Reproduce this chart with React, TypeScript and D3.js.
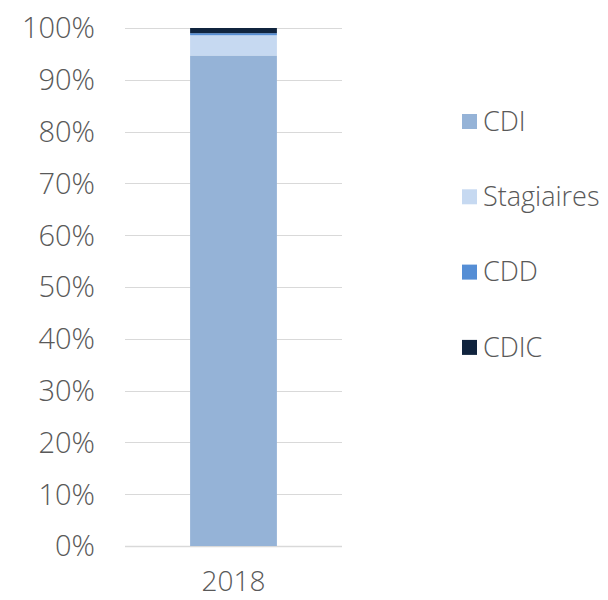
import React, { useRef, useEffect } from "react";
import * as d3 from "d3";

const categories = ["2018"];
const seriesNames = ["CDI", "Stagiaires", "CDD", "CDIC"];
const seriesColors = ["#95b3d7", "#c6d9f1", "#558ed5", "#10243e"];
const cdi = [0.947];
const stagiaires = [0.039];
const cdd = [0.004];
const cdic = [0.01];
const yTicks = [0, 0.1, 0.2, 0.3, 0.4, 0.5, 0.6, 0.7, 0.8, 0.9, 1];

const FONT = "'Open Sans', sans-serif";

const App = () => {
  const chartRef = useRef<SVGSVGElement>(null);

  useEffect(() => {
    const width = 608;
    const height = 600;
    const margin = { top: 28, right: 266, bottom: 54, left: 125 };
    const innerW = width - margin.left - margin.right;
    const innerH = height - margin.top - margin.bottom;

    const svg = d3.select(chartRef.current);
    svg.selectAll("*").remove();

    const rows = categories.map((c, i) => ({
      category: c,
      CDI: cdi[i],
      Stagiaires: stagiaires[i],
      CDD: cdd[i],
      CDIC: cdic[i],
    }));

    const stack = d3.stack<any>().keys(seriesNames);
    const stacked = stack(rows);

    const x = d3.scaleBand().domain(categories).range([0, innerW]).paddingInner(0.6).paddingOuter(0.295);
    const y = d3.scaleLinear().domain([0, 1]).range([innerH, 0]);
    const color = d3.scaleOrdinal<string>().domain(seriesNames).range(seriesColors);

    const g = svg.append("g").attr("transform", `translate(${margin.left},${margin.top})`);

    // grille
    g.selectAll("line.grid")
      .data(yTicks)
      .enter()
      .append("line")
      .attr("class", "grid")
      .attr("x1", 0)
      .attr("x2", innerW)
      .attr("y1", (d) => Math.round(y(d)) + 0.5)
      .attr("y2", (d) => Math.round(y(d)) + 0.5)
      .attr("stroke", "#d9d9d9")
      .attr("stroke-width", (d) => (d === 0 ? 1.5 : 1));

    // barres
    g.selectAll("g.layer")
      .data(stacked)
      .enter()
      .append("g")
      .attr("fill", (d) => color(d.key))
      .selectAll("rect")
      .data((d) => d)
      .enter()
      .append("rect")
      .attr("x", (d: any) => x(d.data.category)!)
      .attr("width", x.bandwidth())
      .attr("y", (d) => y(d[1]))
      .attr("height", (d) => y(d[0]) - y(d[1]));

    // axe y
    g.selectAll("text.ytick")
      .data(yTicks)
      .enter()
      .append("text")
      .attr("x", -30)
      .attr("y", (d) => y(d))
      .attr("dy", "0.36em")
      .attr("text-anchor", "end")
      .attr("font-family", FONT)
      .attr("font-size", 29)
      .attr("font-weight", 300)
      .attr("fill", "#595959")
      .text((d) => d3.format(".0%")(d));

    // axe x
    g.selectAll("text.xtick")
      .data(categories)
      .enter()
      .append("text")
      .attr("x", (d) => x(d)! + x.bandwidth() / 2)
      .attr("y", innerH + 45)
      .attr("text-anchor", "middle")
      .attr("font-family", FONT)
      .attr("font-size", 28)
      .attr("font-weight", 300)
      .attr("fill", "#595959")
      .text((d) => d);

    // légende
    const legend = svg
      .append("g")
      .selectAll("g")
      .data(seriesNames)
      .enter()
      .append("g")
      .attr("transform", (d, i) => `translate(462,${121 + i * 75.3})`);
    legend
      .append("rect")
      .attr("x", 0)
      .attr("y", -7)
      .attr("width", 15)
      .attr("height", 15)
      .attr("fill", (d) => color(d));
    legend
      .append("text")
      .attr("x", 21)
      .attr("dy", "0.36em")
      .attr("font-family", FONT)
      .attr("font-size", 27)
      .attr("font-weight", 300)
      .attr("fill", "#595959")
      .text((d) => d);
  }, []);

  return (
    <svg
      ref={chartRef}
      width={608}
      height={600}
      style={{ position: "absolute", left: 0, top: 0, background: "#fff" }}
    />
  );
};

export default App;
